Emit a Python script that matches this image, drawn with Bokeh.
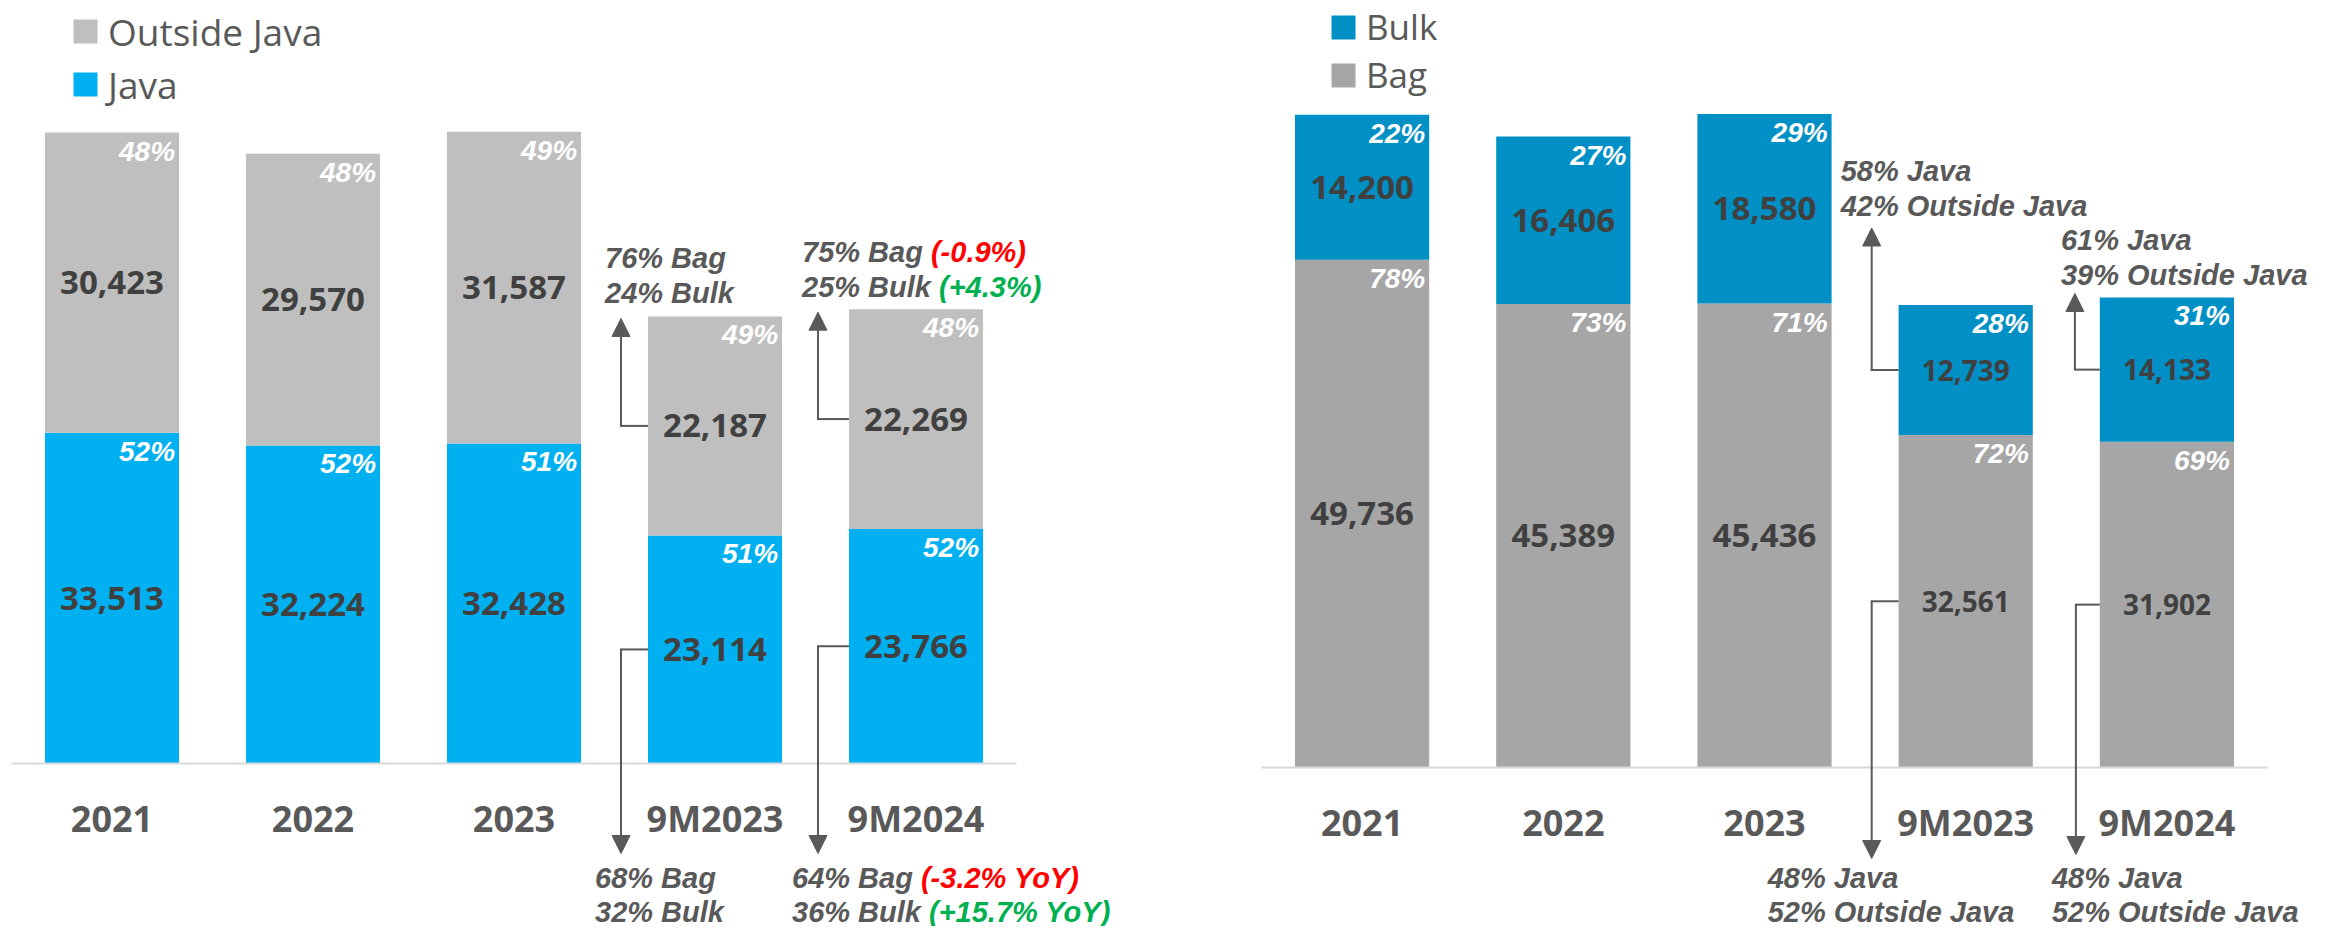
from bokeh.plotting import figure
from bokeh.models import (ColumnDataSource, Range1d, FixedTicker, Legend, LegendItem,
                          Label, Arrow, NormalHead)
from bokeh.layouts import row
from bokeh.core.properties import value
from bokeh.embed import file_html
from bokeh.resources import INLINE

# ---------------- data ----------------
periods = ["2021", "2022", "2023", "9M2023", "9M2024"]

java = [33513, 32224, 32428, 23114, 23766]
outside_java = [30423, 29570, 31587, 22187, 22269]
java_pct = ["52%", "52%", "51%", "51%", "52%"]
outside_pct = ["48%", "48%", "49%", "49%", "48%"]

bag = [49736, 45389, 45436, 32561, 31902]
bulk = [14200, 16406, 18580, 12739, 14133]
bag_pct = ["78%", "73%", "71%", "72%", "69%"]
bulk_pct = ["22%", "27%", "29%", "28%", "31%"]

# annotation texts: (text, colour-key) segments per line
note_9m23_up_left = [[("76% Bag", "g")], [("24% Bulk", "g")]]
note_9m24_up_left = [[("75% Bag", "g"), ("(-0.9%)", "r")], [("25% Bulk", "g"), ("(+4.3%)", "gr")]]
note_9m23_dn_left = [[("68% Bag", "g")], [("32% Bulk", "g")]]
note_9m24_dn_left = [[("64% Bag", "g"), ("(-3.2% YoY)", "r")], [("36% Bulk", "g"), ("(+15.7% YoY)", "gr")]]
note_9m23_up_right = [[("58% Java", "g")], [("42% Outside Java", "g")]]
note_9m24_up_right = [[("61% Java", "g")], [("39% Outside Java", "g")]]
note_9m23_dn_right = [[("48% Java", "g")], [("52% Outside Java", "g")]]
note_9m24_dn_right = [[("48% Java", "g")], [("52% Outside Java", "g")]]

# ---------------- style ----------------
C_JAVA = "#00B0F0"
C_OUT = "#BFBFBF"
C_BULK = "#0090C6"
C_BAG = "#A6A6A6"
TXT_GRAY = "#595959"
TXT_VAL = "#404040"
COLORS = {"g": "#595959", "r": "#FF0000", "gr": "#00B050"}
F_CAL = "Open Sans"
F_AR = "Liberation Sans"
NOTE_SIZE = 29

AR_BOLD = {'%': 889, ' ': 278, 'B': 722, 'a': 556, 'g': 611, 'u': 611, 'l': 278, 'k': 556,
           '(': 333, '-': 333, '.': 278, ')': 333, '+': 584, 'Y': 667, 'o': 611, 'J': 556,
           'v': 556, 'O': 778, 't': 333, 's': 556, 'i': 278, 'd': 611, 'e': 556}


def text_w(s, size):
    return sum(AR_BOLD.get(c, 556) for c in s) * size / 1000.0


BAR_W = 0.667
HEIGHT = 926


def build(bottom, top, bottom_pct, top_pct, c_bottom, c_top, names, width,
          x0_px, px_x, base_px, px_y, small_9m, legend_font, legend_vx, legend_top,
          legend_spacing, notes):
    xs = 1.0 / px_x
    ys = 1.0 / px_y
    x = list(range(len(periods)))
    totals = [b + t for b, t in zip(bottom, top)]
    src = ColumnDataSource(dict(
        x=x, bottom=bottom, top=top, tot=totals,
        xr=[i + BAR_W / 2 for i in x],
        mid_b=[b / 2 for b in bottom],
        mid_t=[b + t / 2 for b, t in zip(bottom, top)],
        lab_b=[f"{v:,}" for v in bottom], lab_t=[f"{v:,}" for v in top],
        pct_b=bottom_pct, pct_t=top_pct,
        size=[("28px" if (small_9m and p.startswith("9M")) else "33px") for p in periods],
    ))
    p = figure(width=width, height=HEIGHT,
               x_range=Range1d(-x0_px * xs, (width - x0_px) * xs),
               y_range=Range1d(-(HEIGHT - base_px) * ys, base_px * ys),
               output_backend="svg", toolbar_location=None, min_border=0,
               min_border_left=0, min_border_right=0, min_border_top=0, min_border_bottom=0)
    p.outline_line_color = None
    p.xgrid.visible = False
    p.ygrid.visible = False
    p.yaxis.visible = False
    p.background_fill_color = "white"
    p.border_fill_color = "white"

    rs = p.vbar_stack(["bottom", "top"], x="x", width=BAR_W, color=[c_bottom, c_top],
                      line_color=None, source=src)

    ax = p.xaxis[0]
    ax.fixed_location = 0
    ax.bounds = (-0.5, len(periods) - 0.5)
    ax.ticker = FixedTicker(ticks=x)
    ax.major_label_overrides = {i: periods[i] for i in x}
    ax.axis_line_color = "#D9D9D9"
    ax.axis_line_width = 2
    ax.major_tick_line_color = None
    ax.minor_tick_line_color = None
    ax.major_label_text_font = F_CAL
    ax.major_label_text_font_style = "bold"
    ax.major_label_text_font_size = "36px"
    ax.major_label_text_color = TXT_GRAY
    ax.major_label_standoff = 24

    # value labels
    for ycol, tcol in (("mid_b", "lab_b"), ("mid_t", "lab_t")):
        p.text(x="x", y=ycol, text=tcol, source=src, text_align="center",
               text_baseline="middle", text_font=value(F_CAL), text_font_style="bold",
               text_font_size="size", text_color=TXT_VAL)
    # percentage labels
    for ycol, tcol in (("bottom", "pct_b"), ("tot", "pct_t")):
        p.text(x="xr", y=ycol, text=tcol, source=src, text_align="right",
               text_baseline="top", x_offset=-4, y_offset=3, text_font=value(F_AR),
               text_font_style="bold italic", text_font_size="28px", text_color="white")

    item_h = 1.362 * legend_font
    leg_h = 2 * item_h + legend_spacing
    legend = Legend(items=[LegendItem(label=names[1], renderers=[rs[1]]),
                           LegendItem(label=names[0], renderers=[rs[0]])],
                    location=(legend_vx, HEIGHT - (legend_top + leg_h)),
                    orientation="vertical", padding=0, margin=0,
                    spacing=legend_spacing, glyph_width=30, glyph_height=30, label_standoff=8,
                    label_text_font=F_CAL, label_text_font_size=f"{legend_font}px",
                    label_text_color=TXT_GRAY, border_line_color=None,
                    background_fill_alpha=0)
    p.add_layout(legend)

    mid_b = src.data["mid_b"]
    mid_t = src.data["mid_t"]
    for n in notes:
        i = n["idx"]
        xt = i + n["text_dx"] * xs
        if n["where"] == "up":
            ylines = [totals[i] + (n["gap"] + 35) * ys, totals[i] + n["gap"] * ys]
            ystart = mid_t[i]
            ytip = totals[i] + n["tip"] * ys
        else:
            ylines = [-n["gap"] * ys, -(n["gap"] + 34) * ys]
            ystart = mid_b[i]
            ytip = -n["tip"] * ys
        for line, yl in zip(n["lines"], ylines):
            off = 0.0
            for seg, ck in line:
                p.add_layout(Label(x=xt + off * xs, y=yl, text=seg, text_font=F_AR,
                                   text_font_style="bold italic",
                                   text_font_size=f"{NOTE_SIZE}px", text_color=COLORS[ck],
                                   text_baseline="middle", text_align="left"))
                off += text_w(seg + " ", NOTE_SIZE)
        xa = i + n["arrow_dx"] * xs
        p.add_layout(Arrow(end=None, x_start=i - BAR_W / 2, y_start=ystart,
                           x_end=xa - 1 * xs, y_end=ystart, line_color=TXT_GRAY, line_width=2))
        p.add_layout(Arrow(end=NormalHead(size=18, fill_color=TXT_GRAY, line_color=TXT_GRAY,
                                          line_width=1),
                           x_start=xa, y_start=ystart, x_end=xa, y_end=ytip,
                           line_color=TXT_GRAY, line_width=2))
    return p


left_notes = [
    dict(idx=3, where="up", lines=note_9m23_up_left, text_dx=-110, gap=23, arrow_dx=-94, tip=-2),
    dict(idx=4, where="up", lines=note_9m24_up_left, text_dx=-114, gap=22, arrow_dx=-98, tip=-3),
    dict(idx=3, where="down", lines=note_9m23_dn_left, text_dx=-120, gap=114, arrow_dx=-94, tip=90),
    dict(idx=4, where="down", lines=note_9m24_dn_left, text_dx=-124, gap=114, arrow_dx=-98, tip=90),
]
right_notes = [
    dict(idx=3, where="up", lines=note_9m23_up_right, text_dx=-125, gap=99, arrow_dx=-94, tip=77),
    dict(idx=4, where="up", lines=note_9m24_up_right, text_dx=-106, gap=22, arrow_dx=-92, tip=4),
    dict(idx=3, where="down", lines=note_9m23_dn_right, text_dx=-198, gap=110, arrow_dx=-94, tip=91),
    dict(idx=4, where="down", lines=note_9m24_dn_right, text_dx=-115, gap=110, arrow_dx=-91, tip=87),
]

p1 = build(java, outside_java, java_pct, outside_pct, C_JAVA, C_OUT, ["Java", "Outside Java"],
           width=1250, x0_px=111.5, px_x=201.0, base_px=763, px_y=0.009869, small_9m=False,
           legend_font=37, legend_vx=70, legend_top=7, legend_spacing=2, notes=left_notes)
p2 = build(bag, bulk, bag_pct, bulk_pct, C_BAG, C_BULK, ["Bag", "Bulk"],
           width=1081, x0_px=111.6, px_x=201.2, base_px=767, px_y=0.01021, small_9m=True,
           legend_font=35, legend_vx=78, legend_top=2, legend_spacing=1, notes=right_notes)

layout = row(p1, p2)
open("out.html", "w").write(file_html(layout, INLINE))
